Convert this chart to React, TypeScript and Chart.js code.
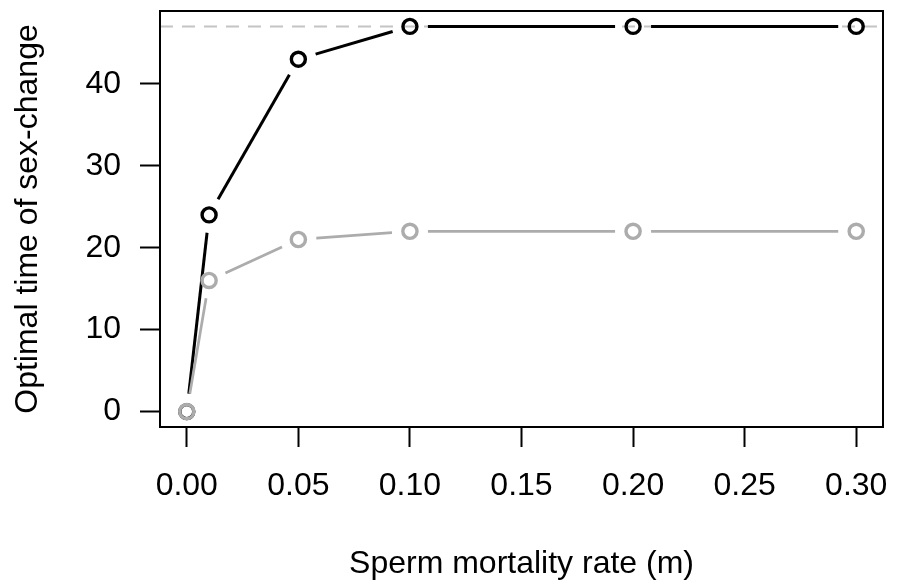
import React, { useEffect, useRef } from "react";
import { Chart, registerables } from "chart.js";

Chart.register(...registerables);

// Sperm mortality rate (m) on the x axis
const mortalityRates = [0, 0.01, 0.05, 0.1, 0.2, 0.3];
// Optimal time of sex-change for the two scenarios
const timeBlack = [0, 24, 43, 47, 47, 47];
const timeGrey = [0, 16, 21, 22, 22, 22];
// Horizontal dashed reference level
const referenceLevel = 47;

const xTickValues = [0, 0.05, 0.1, 0.15, 0.2, 0.25, 0.3];
const yTickValues = [0, 10, 20, 30, 40];

const FONT = "'Liberation Sans', Arial, Helvetica, sans-serif";
const FONT_SIZE = 32;

// Lines between points with a gap around each point (R's type = "b")
const gappedLinesPlugin = {
  id: "gappedLines",
  beforeDatasetsDraw(chart: any) {
    const { ctx, chartArea, scales } = chart;
    // dashed reference line
    const yRef = scales.y.getPixelForValue(referenceLevel);
    ctx.save();
    ctx.beginPath();
    ctx.rect(chartArea.left, chartArea.top, chartArea.right - chartArea.left, chartArea.bottom - chartArea.top);
    ctx.clip();
    ctx.strokeStyle = "#c4c4c4";
    ctx.lineWidth = 2;
    ctx.setLineDash([13, 9]);
    ctx.beginPath();
    ctx.moveTo(chartArea.left, yRef);
    ctx.lineTo(chartArea.right, yRef);
    ctx.stroke();
    ctx.setLineDash([]);

    const metas = chart.getSortedVisibleDatasetMetas().slice().reverse();
    for (const meta of metas) {
      const ds = chart.data.datasets[meta.index];
      const gap = ds.segmentGap ?? 18;
      ctx.strokeStyle = ds.lineColor;
      ctx.lineWidth = ds.lineWidth;
      ctx.lineCap = "butt";
      const pts = meta.data;
      for (let i = 0; i < pts.length - 1; i++) {
        const a = pts[i];
        const b = pts[i + 1];
        const dx = b.x - a.x;
        const dy = b.y - a.y;
        const d = Math.hypot(dx, dy);
        if (d <= 2 * gap) continue;
        const ux = dx / d;
        const uy = dy / d;
        ctx.beginPath();
        ctx.moveTo(a.x + ux * gap, a.y + uy * gap);
        ctx.lineTo(b.x - ux * gap, b.y - uy * gap);
        ctx.stroke();
      }
    }
    ctx.restore();
  },
  afterDraw(chart: any) {
    const { ctx, chartArea } = chart;
    ctx.save();
    ctx.strokeStyle = "#000";
    ctx.lineWidth = 2;
    ctx.strokeRect(chartArea.left, chartArea.top, chartArea.right - chartArea.left, chartArea.bottom - chartArea.top);
    ctx.restore();
  },
};

export default function App() {
  const canvasRef = useRef<HTMLCanvasElement | null>(null);

  useEffect(() => {
    if (!canvasRef.current) return;
    const chart = new Chart(canvasRef.current, {
      type: "line",
      data: {
        labels: mortalityRates,
        datasets: [
          {
            label: "black",
            data: mortalityRates.map((x, i) => ({ x, y: timeBlack[i] })),
            showLine: false,
            pointRadius: 7,
            pointBorderWidth: 3.4,
            pointBorderColor: "#000",
            pointBackgroundColor: "rgba(0,0,0,0)",
            pointHoverRadius: 7,
            order: 2,
            lineColor: "#000",
            lineWidth: 3,
            segmentGap: 18,
          } as any,
          {
            label: "grey",
            data: mortalityRates.map((x, i) => ({ x, y: timeGrey[i] })),
            showLine: false,
            pointRadius: 7.1,
            pointBorderWidth: 3.4,
            pointBorderColor: "#acacac",
            pointBackgroundColor: "rgba(0,0,0,0)",
            pointHoverRadius: 7.1,
            order: 1,
            lineColor: "#acacac",
            lineWidth: 2.7,
            segmentGap: 18,
          } as any,
        ],
      },
      options: {
        animation: false,
        responsive: false,
        events: [],
        layout: { padding: { top: 11, right: 15, left: 0, bottom: 0 } },
        plugins: {
          legend: { display: false },
          tooltip: { enabled: false },
        },
        scales: {
          x: {
            type: "linear",
            min: -0.012,
            max: 0.312,
            afterBuildTicks: (scale: any) => {
              scale.ticks = xTickValues.map((v) => ({ value: v }));
            },
            afterFit: (scale: any) => {
              scale.height = 158;
              scale.paddingLeft = 0;
              scale.paddingRight = 0;
            },
            ticks: {
              callback: (v: any) => Number(v).toFixed(2),
              font: { family: FONT, size: FONT_SIZE },
              color: "#000",
              padding: 20,
              maxRotation: 0,
              autoSkip: false,
            },
            grid: {
              drawOnChartArea: false,
              drawTicks: true,
              tickLength: 20,
              tickWidth: 2,
              tickColor: "#000",
            },
            border: { display: false },
            title: {
              display: true,
              text: "Sperm mortality rate (m)",
              font: { family: FONT, size: FONT_SIZE },
              color: "#000",
              padding: { top: 0, bottom: 2 },
            },
          },
          y: {
            type: "linear",
            min: -1.88,
            max: 48.88,
            afterBuildTicks: (scale: any) => {
              scale.ticks = yTickValues.map((v) => ({ value: v }));
            },
            afterFit: (scale: any) => {
              scale.width = 160;
              scale.paddingTop = 0;
              scale.paddingBottom = 0;
            },
            ticks: {
              callback: (v: any) => String(v),
              font: { family: FONT, size: FONT_SIZE },
              color: "#000",
              padding: 19,
              autoSkip: false,
            },
            grid: {
              drawOnChartArea: false,
              drawTicks: true,
              tickLength: 20,
              tickWidth: 2,
              tickColor: "#000",
            },
            border: { display: false },
            title: {
              display: true,
              text: "Optimal time of sex-change",
              font: { family: FONT, size: FONT_SIZE },
              color: "#000",
              padding: { top: 9, bottom: 0 },
            },
          },
        },
      },
      plugins: [gappedLinesPlugin],
    });
    return () => chart.destroy();
  }, []);

  return (
    <div style={{ position: "absolute", left: 0, top: 0, width: 898, height: 585, background: "#fff" }}>
      <canvas ref={canvasRef} width={898} height={585} style={{ display: "block" }} />
    </div>
  );
}
